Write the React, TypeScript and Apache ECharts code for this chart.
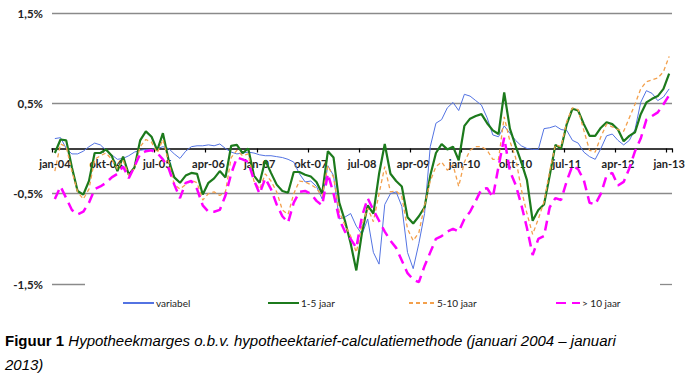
import React, { useEffect, useRef } from "react";
import * as echarts from "echarts";

const monthNames = ["jan", "feb", "mrt", "apr", "mei", "jun", "jul", "aug", "sep", "okt", "nov", "dec"];
const startYear = 2004;
const monthCount = 109; // jan-04 .. jan-13

const yTicks = [-1.5, -0.5, 0.5, 1.5];

const variabel = [
  0.11, 0.12, 0.0, -0.06, -0.06, -0.03, 0.02, 0.06, 0.04, -0.02, -0.07, -0.12,
  -0.11, -0.08, -0.04, -0.02, -0.01, -0.01, 0.0, 0.02, 0.0, -0.06, -0.11, -0.03,
  0.02, 0.03, 0.03, 0.04, 0.03, 0.05, 0.0, -0.04, -0.06, -0.05, -0.04, -0.05,
  -0.07, -0.08, -0.08, -0.09, -0.1, -0.12, -0.15, -0.28, -0.37, -0.36, -0.42, -0.56,
  -0.19, -0.3, -0.78, -0.76, -0.72, -0.86, -0.95, -0.78, -1.15, -1.28, -0.62, -0.5,
  -0.48, -0.64, -1.15, -1.33, -1.05, -0.72, 0.02, 0.28, 0.32, 0.45, 0.51, 0.42,
  0.6, 0.58, 0.53, 0.48, 0.34, 0.15, 0.13, 0.25, 0.17, 0.09, 0.03, 0.0,
  -0.01, -0.01, 0.22, 0.23, 0.25, 0.21, 0.2, 0.09, 0.06, -0.04, -0.09, -0.12,
  0.0, 0.14, 0.16, 0.09, 0.04, 0.09, 0.21, 0.51, 0.64, 0.61, 0.53, 0.57,
  0.66,
];

const jaar1tot5 = [
  -0.05, 0.1, 0.09, -0.21, -0.47, -0.51, -0.36, -0.05, -0.05, -0.01, -0.08, -0.25,
  -0.09, -0.29, -0.21, 0.09, 0.19, 0.13, -0.02, 0.17, -0.13, -0.32, -0.38, -0.3,
  -0.27, -0.28, -0.51, -0.38, -0.33, -0.25, -0.32, 0.03, 0.04, -0.05, 0.0, -0.3,
  -0.38, -0.13, -0.27, -0.4, -0.47, -0.49, -0.26, -0.26, -0.29, -0.31, -0.37, -0.5,
  -0.03, -0.1, -0.6, -0.8, -1.05, -1.35, -0.93, -0.63, -0.72, -0.28, 0.05, -0.28,
  -0.36, -0.42, -0.76, -0.83, -0.75, -0.65, -0.3, -0.05, 0.05, -0.01, 0.02, -0.13,
  0.25, 0.33, 0.36, 0.38, 0.28, 0.2, 0.16, 0.62, 0.22, 0.03, -0.15, -0.35,
  -0.8, -0.68, -0.62, -0.3, 0.04, 0.0, 0.27, 0.44, 0.42, 0.27, 0.14, 0.14,
  0.23, 0.29, 0.27, 0.21, 0.08, 0.14, 0.18, 0.38, 0.51, 0.55, 0.58, 0.66,
  0.83,
];

const jaar5tot10 = [
  -0.25, 0.05, 0.02, -0.25, -0.48, -0.56, -0.45, -0.12, -0.08, -0.05, -0.12, -0.23,
  -0.13, -0.3, -0.22, 0.02, 0.1, 0.07, -0.05, 0.1, -0.15, -0.4, -0.45, -0.4,
  -0.35, -0.38, -0.57, -0.5, -0.48, -0.52, -0.48, -0.1, -0.02, -0.08, -0.06, -0.36,
  -0.45, -0.28, -0.36, -0.48, -0.68, -0.73, -0.5, -0.36, -0.37, -0.4, -0.44, -0.53,
  -0.19, -0.32, -0.7, -0.85, -0.97, -1.15, -0.85, -0.66, -0.81, -0.5, -0.2, -0.48,
  -0.47, -0.53, -0.89, -1.02, -0.93, -0.63, -0.36, -0.2, -0.15, -0.24, -0.18, -0.42,
  -0.15, -0.02, 0.02, 0.02, -0.02, -0.12, -0.12, 0.35, 0.08, -0.1, -0.45, -0.72,
  -0.95, -0.78, -0.59, -0.25, 0.04, 0.02, 0.3, 0.45, 0.43, 0.2, -0.02, -0.04,
  0.13, 0.27, 0.24, 0.21, 0.19, 0.34, 0.49, 0.66, 0.74, 0.76, 0.78, 0.85,
  1.02,
];

const meerDan10 = [
  -0.56, -0.42, -0.55, -0.68, -0.73, -0.7, -0.6, -0.45, -0.42, -0.38, -0.32, -0.28,
  -0.2, -0.33, -0.2, -0.06, -0.03, -0.02, -0.05, -0.12, -0.22, -0.4, -0.55, -0.38,
  -0.36, -0.45, -0.63, -0.7, -0.7, -0.68, -0.52, -0.28, -0.1, -0.12, -0.15, -0.35,
  -0.5, -0.33, -0.45, -0.62, -0.75, -0.82, -0.6, -0.48, -0.47, -0.5, -0.58, -0.63,
  -0.28, -0.5, -0.78, -0.92, -1.0, -1.1, -0.75, -0.55, -0.68, -0.8, -0.92, -1.02,
  -1.1, -1.24, -1.38, -1.45, -1.48, -1.3, -1.15, -1.0, -0.97, -0.92, -0.89, -0.92,
  -0.78, -0.7, -0.58, -0.45, -0.44, -0.54, -0.2, 0.12, -0.25, -0.4, -0.62, -0.88,
  -1.18, -1.0, -0.97, -0.65, -0.55, -0.57, -0.36, -0.19, -0.23, -0.35, -0.6, -0.62,
  -0.5, -0.3, -0.27, -0.41, -0.37, -0.22, -0.03, 0.11, 0.32, 0.36, 0.4, 0.49,
  0.59,
];

const seriesNames = ["variabel", "1-5 jaar", "5-10 jaar", "> 10 jaar"];

const categories: string[] = [];
for (let i = 0; i < monthCount; i++) {
  const m = i % 12;
  const y = (startYear + Math.floor(i / 12)) % 100;
  categories.push(monthNames[m] + "-" + String(y).padStart(2, "0"));
}

const fmtPct = (v: number) => String(v).replace(".", ",") + "%";

const GRID_TOP = 13;
const GRID_BOTTOM = 92;
const CHART_H = 376;

export default function App() {
  const ref = useRef<HTMLDivElement>(null);
  useEffect(() => {
    if (!ref.current) return;
    const chart = echarts.init(ref.current, null, { renderer: "svg" });
    const plotH = CHART_H - GRID_TOP - GRID_BOTTOM;
    const yMin = yTicks[0];
    const yMax = yTicks[yTicks.length - 1];
    const zeroOffset = -plotH * (0 - yMin) / (yMax - yMin);
    const legendBase = {
      itemHeight: 10,
      itemGap: 2,
      top: 293,
      itemStyle: { opacity: 0 },
      textStyle: { fontFamily: "Lato", fontSize: 10, color: "#222", padding: [0, 0, 0, -3] },
    };
    chart.setOption({
      animation: false,
      backgroundColor: "#fff",
      grid: { left: 52, right: 18, top: GRID_TOP, bottom: GRID_BOTTOM, containLabel: false },
      xAxis: {
        type: "category",
        data: categories,
        boundaryGap: true,
        offset: zeroOffset,
        axisLine: { onZero: false, lineStyle: { color: "#000", width: 1.5 } },
        axisTick: { show: true, interval: 8, length: 4, lineStyle: { color: "#000", width: 1.2 } },
        axisLabel: {
          interval: 8,
          margin: 9,
          fontFamily: "Lato",
          fontWeight: "bold",
          fontSize: 11,
          color: "#222",
        },
        splitLine: { show: false },
      },
      yAxis: {
        type: "value",
        min: yMin,
        max: yMax,
        interval: 1,
        axisLine: { show: false },
        axisTick: { show: false },
        axisLabel: {
          margin: 9,
          fontFamily: "Lato",
          fontWeight: "bold",
          fontSize: 11.5,
          color: "#222",
          formatter: (v: number) => fmtPct(v),
        },
        splitLine: {
          show: true,
          lineStyle: { color: ["rgba(0,0,0,0)", "#8a8a8a", "#8a8a8a", "#8a8a8a"], width: 1.3 },
        },
      },
      legend: [
        { ...legendBase, left: 117, itemWidth: 31, data: [seriesNames[0]] },
        { ...legendBase, left: 262, itemWidth: 31, data: [seriesNames[1]] },
        { ...legendBase, left: 403, itemWidth: 26, data: [seriesNames[2]] },
        { ...legendBase, left: 550, itemWidth: 24, data: [seriesNames[3]] },
      ],
      series: [
        {
          name: seriesNames[0],
          type: "line",
          data: variabel,
          symbol: "none",
          lineStyle: { color: "#5373e2", width: 1 },
          itemStyle: { color: "#5373e2" },
        },
        {
          name: seriesNames[1],
          type: "line",
          data: jaar1tot5,
          symbol: "none",
          lineStyle: { color: "#1c7a1c", width: 2.2 },
          itemStyle: { color: "#1c7a1c" },
        },
        {
          name: seriesNames[2],
          type: "line",
          data: jaar5tot10,
          symbol: "none",
          lineStyle: { color: "#f3a04c", width: 1.3, type: [4, 3] },
          itemStyle: { color: "#f3a04c" },
        },
        {
          name: seriesNames[3],
          type: "line",
          data: meerDan10,
          symbol: "none",
          lineStyle: { color: "#ff00ff", width: 2.5, type: [10, 6] },
          itemStyle: { color: "#ff00ff" },
        },
      ],
      graphic: [
        {
          type: "line",
          shape: { x1: 52, y1: 284.5, x2: 85, y2: 284.5 },
          style: { stroke: "#8a8a8a", lineWidth: 1.3 },
        },
        {
          type: "line",
          shape: { x1: 660, y1: 284.5, x2: 672, y2: 284.5 },
          style: { stroke: "#8a8a8a", lineWidth: 1.3 },
        },
        {
          type: "text",
          left: 5,
          top: 328,
          style: {
            text:
              "{b|Figuur 1} {i|Hypotheekmarges o.b.v. hypotheektarief-calculatiemethode (januari 2004 – januari}\n{i|2013)}",
            fontFamily: "Liberation Sans",
            fontSize: 15,
            lineHeight: 24,
            fill: "#000",
            rich: {
              b: { fontWeight: "bold", fontSize: 15, fontFamily: "Liberation Sans", lineHeight: 24 },
              i: { fontStyle: "italic", fontSize: 15, fontFamily: "Liberation Sans", lineHeight: 24 },
            },
          },
        },
      ],
    });
    return () => chart.dispose();
  }, []);
  return (
    <div
      ref={ref}
      style={{ position: "fixed", left: 0, top: 0, width: 690, height: 376, background: "#fff" }}
    />
  );
}
